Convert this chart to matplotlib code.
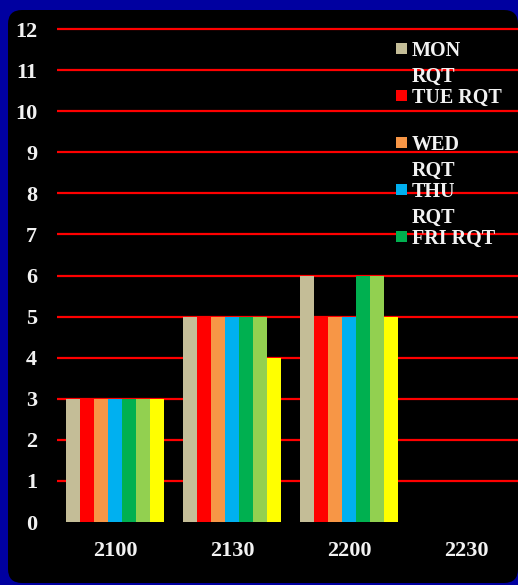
import numpy as np
import matplotlib.pyplot as plt
from matplotlib.patches import FancyBboxPatch, Rectangle

# data
times = ["2100", "2130", "2200", "2230"]
series = ["MON RQT", "TUE RQT", "WED RQT", "THU RQT", "FRI RQT", "SAT RQT", "SUN RQT"]
mon = [3, 5, 6, 0]
tue = [3, 5, 5, 0]
wed = [3, 5, 5, 0]
thu = [3, 5, 5, 0]
fri = [3, 5, 6, 0]
sat = [3, 5, 6, 0]
sun = [3, 4, 5, 0]
values = [mon, tue, wed, thu, fri, sat, sun]
colors = ["#C4BD97", "#FF0000", "#F79646", "#00B0F0", "#00B050", "#92D050", "#FFFF00"]

# legend in the original is cut off after five entries and wraps oddly
legend_labels = ["MON\nRQT", "TUE RQT", "WED\nRQT", "THU\nRQT", "FRI RQT"]

W, H = 518, 585
font = "Liberation Serif"
txt = "#F2F2F2"

fig = plt.figure(figsize=(W / 100, H / 100), dpi=100)
fig.patch.set_facecolor("#0000A0")


def pixel_axes(z):
    a = fig.add_axes([0, 0, 1, 1], zorder=z)
    a.set_xlim(0, W)
    a.set_ylim(H, 0)
    a.axis("off")
    return a


# black rounded panel, drawn in pixel units
bg = pixel_axes(0)
bg.add_patch(FancyBboxPatch((8, 10), W - 8, 573,
                            boxstyle="round,pad=0,rounding_size=14",
                            fc="black", ec="none"))

px0, px1 = 56.5, 524.5
py0, ptop = 522, 8.5
ax = fig.add_axes([px0 / W, (H - py0) / H, (px1 - px0) / W, (py0 - ptop) / H], zorder=1)
ax.set_facecolor("none")

x = np.arange(len(times))
n = len(series)
bw = 0.83 / n
for i, (name, vals) in enumerate(zip(series, values)):
    ax.bar(x - 0.415 + bw * (i + 0.5), vals, bw, color=colors[i], label=name,
           linewidth=0, zorder=3)

ax.set_xlim(-0.5, 3.5)
ax.set_ylim(0, 12.5)
ax.set_yticks(range(0, 13))
ax.set_xticks(x)
ax.set_xticklabels(times)
ax.yaxis.grid(True, color="#FF0000", linewidth=1.6)
ax.get_ygridlines()[0].set_visible(False)
ax.set_axisbelow(True)
for s in ax.spines.values():
    s.set_visible(False)
ax.tick_params(length=0, colors=txt)
ax.tick_params(axis="y", pad=14)
ax.tick_params(axis="x", pad=14)
for lab in ax.get_xticklabels() + ax.get_yticklabels():
    lab.set_fontfamily(font)
    lab.set_fontweight("bold")
    lab.set_fontsize(16)

# hand placed legend, pixel positions
leg = pixel_axes(2)
for i, lab in enumerate(legend_labels):
    cy = 49 + 47 * i
    leg.add_patch(Rectangle((396, cy - 6), 11, 11, fc=colors[i], ec="none"))
    for j, line in enumerate(lab.split("\n")):
        leg.text(412, cy + 7 + 26 * j, line, color=txt, fontsize=14.5,
                 fontfamily=font, fontweight="bold", va="baseline", ha="left")

fig.savefig("out.png", dpi=100, facecolor=fig.get_facecolor())
